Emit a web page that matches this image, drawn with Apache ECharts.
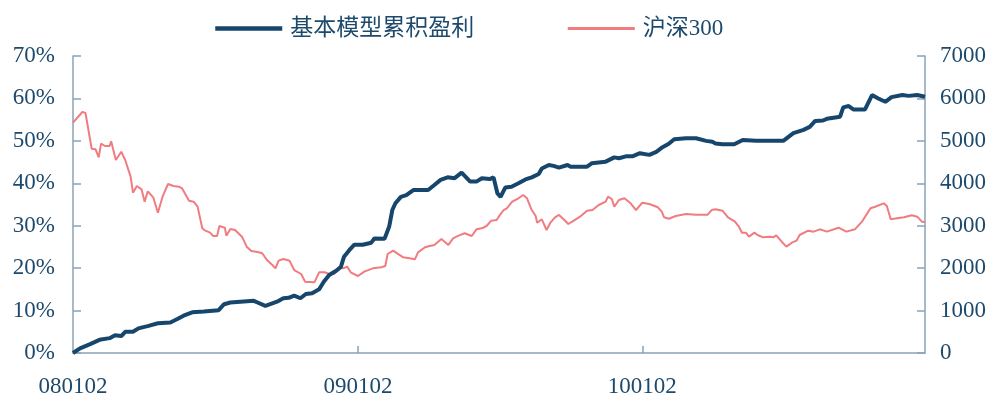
<!DOCTYPE html>
<html>
<head>
<meta charset="utf-8">
<script src="https://cdn.jsdelivr.net/npm/echarts@6/dist/echarts.min.js"></script>
<style>
html,body{margin:0;padding:0;background:#fff;}
#c{width:1002px;height:405px;}
</style>
</head>
<body>
<div id="c"></div>
<script>
// ---- data ----
const modelDates = ['2008-01-02','2008-01-11','2008-01-24','2008-02-05','2008-02-18','2008-02-25','2008-03-04','2008-03-09','2008-03-19','2008-03-26','2008-04-08','2008-04-20','2008-05-06','2008-05-15','2008-05-23','2008-06-03','2008-06-18','2008-07-07','2008-07-14','2008-07-22','2008-08-04','2008-08-21','2008-08-26','2008-09-05','2008-09-20','2008-09-28','2008-10-05','2008-10-12','2008-10-20','2008-10-27','2008-11-04','2008-11-13','2008-11-19','2008-11-26','2008-12-05','2008-12-11','2008-12-15','2008-12-22','2008-12-28','2009-01-08','2009-01-19','2009-01-23','2009-02-05','2009-02-11','2009-02-15','2009-02-19','2009-02-26','2009-03-05','2009-03-14','2009-04-02','2009-04-10','2009-04-18','2009-04-27','2009-05-06','2009-05-15','2009-05-26','2009-06-03','2009-06-10','2009-06-20','2009-06-25','2009-06-30','2009-07-04','2009-07-10','2009-07-18','2009-07-27','2009-08-05','2009-08-13','2009-08-22','2009-08-26','2009-09-04','2009-09-10','2009-09-17','2009-09-28','2009-10-02','2009-10-23','2009-10-29','2009-11-07','2009-11-16','2009-11-27','2009-12-03','2009-12-13','2009-12-21','2009-12-30','2010-01-11','2010-01-20','2010-01-28','2010-02-05','2010-02-12','2010-02-27','2010-03-12','2010-03-25','2010-04-02','2010-04-06','2010-04-15','2010-04-30','2010-05-11','2010-05-28','2010-07-02','2010-07-15','2010-07-28','2010-08-05','2010-08-12','2010-08-22','2010-08-27','2010-09-13','2010-09-17','2010-09-24','2010-09-30','2010-10-15','2010-10-24','2010-11-01','2010-11-10','2010-11-18','2010-12-02','2010-12-10','2010-12-21','2010-12-31'];
const modelProfit = [0,1.1,2.1,3.1,3.5,4.2,4.0,5.0,5.0,5.8,6.4,7.0,7.2,8.0,8.8,9.6,9.8,10.1,11.5,11.9,12.1,12.3,11.9,11.1,12.1,12.9,13.0,13.5,12.9,13.9,14.1,15.0,16.8,18.4,19.4,20.3,22.7,24.3,25.5,25.5,26.0,27.0,26.9,29.8,33.7,35.3,36.8,37.2,38.4,38.4,39.6,40.8,41.4,41.2,42.5,40.4,40.4,41.2,41.0,41.4,37.6,36.8,39.0,39.2,40.0,40.9,41.4,42.2,43.5,44.3,44.1,43.7,44.3,43.9,43.9,44.7,44.9,45.1,46.1,45.9,46.4,46.4,47.1,46.7,47.4,48.5,49.3,50.4,50.6,50.6,50.0,49.8,49.4,49.2,49.2,50.2,50.0,50.0,51.8,52.6,53.3,54.7,54.8,55.2,55.7,57.9,58.2,57.4,57.4,60.8,60.0,59.2,60.3,60.8,60.6,60.8,60.4];

const hs300Dates = ['2008-01-02','2008-01-14','2008-01-18','2008-01-26','2008-01-31','2008-02-04','2008-02-07','2008-02-12','2008-02-18','2008-02-20','2008-02-26','2008-03-04','2008-03-09','2008-03-16','2008-03-19','2008-03-24','2008-03-30','2008-04-03','2008-04-07','2008-04-14','2008-04-20','2008-04-26','2008-05-03','2008-05-10','2008-05-17','2008-05-21','2008-05-30','2008-06-05','2008-06-10','2008-06-16','2008-06-20','2008-06-26','2008-06-30','2008-07-05','2008-07-08','2008-07-15','2008-07-17','2008-07-22','2008-07-28','2008-08-06','2008-08-12','2008-08-18','2008-08-26','2008-09-01','2008-09-07','2008-09-14','2008-09-18','2008-09-22','2008-09-28','2008-10-03','2008-10-06','2008-10-12','2008-10-21','2008-10-26','2008-11-07','2008-11-13','2008-11-20','2008-11-26','2008-12-02','2008-12-09','2008-12-14','2008-12-19','2008-12-24','2009-01-02','2009-01-10','2009-01-21','2009-02-01','2009-02-06','2009-02-09','2009-02-16','2009-02-18','2009-03-01','2009-03-09','2009-03-16','2009-03-20','2009-03-29','2009-04-04','2009-04-10','2009-04-19','2009-04-28','2009-05-04','2009-05-11','2009-05-19','2009-05-28','2009-06-03','2009-06-10','2009-06-16','2009-06-22','2009-06-29','2009-07-03','2009-07-08','2009-07-12','2009-07-19','2009-07-27','2009-08-02','2009-08-07','2009-08-13','2009-08-18','2009-08-20','2009-08-26','2009-09-01','2009-09-06','2009-09-12','2009-09-17','2009-09-23','2009-09-29','2009-10-06','2009-10-14','2009-10-23','2009-10-30','2009-11-07','2009-11-16','2009-11-19','2009-11-24','2009-11-27','2009-12-03','2009-12-10','2009-12-18','2009-12-25','2010-01-02','2010-01-11','2010-01-22','2010-01-27','2010-01-30','2010-02-05','2010-02-14','2010-02-27','2010-03-12','2010-03-27','2010-04-01','2010-04-06','2010-04-15','2010-04-22','2010-05-01','2010-05-06','2010-05-10','2010-05-15','2010-05-19','2010-05-26','2010-05-30','2010-06-06','2010-06-15','2010-06-19','2010-06-23','2010-06-30','2010-07-06','2010-07-13','2010-07-19','2010-07-23','2010-08-03','2010-08-10','2010-08-18','2010-08-27','2010-09-11','2010-09-21','2010-10-02','2010-10-11','2010-10-22','2010-10-28','2010-11-08','2010-11-12','2010-11-17','2010-11-25','2010-12-04','2010-12-14','2010-12-21','2010-12-27','2010-12-31'];
const hs300Index = [5430,5680,5660,4815,4800,4612,4933,4879,4879,4990,4549,4745,4549,4156,3778,3936,3858,3566,3811,3669,3307,3684,3983,3936,3920,3881,3590,3566,3448,2939,2883,2836,2758,2758,2993,2953,2765,2922,2899,2742,2506,2404,2381,2350,2192,2074,1996,2176,2215,2192,2176,1956,1862,1680,1666,1902,1902,1862,1862,2020,1996,2035,1893,1815,1917,1996,2020,2051,2333,2412,2365,2255,2231,2208,2373,2491,2522,2546,2687,2546,2703,2765,2821,2758,2915,2939,2993,3118,3134,3250,3370,3410,3566,3646,3724,3646,3370,3236,3071,3151,2899,3071,3198,3253,3151,3040,3118,3213,3354,3370,3488,3566,3684,3623,3448,3606,3646,3528,3370,3543,3512,3434,3330,3198,3165,3229,3276,3260,3260,3370,3387,3354,3198,3095,2977,2836,2836,2742,2836,2781,2726,2742,2726,2773,2623,2506,2600,2647,2781,2883,2860,2915,2860,2953,2860,2915,3095,3410,3448,3528,3465,3151,3174,3198,3245,3213,3095,3090];

const seriesNames = ['基本模型累积盈利','沪深300'];
const xLabelDates = ['2008-01-02','2009-01-02','2010-01-02'];
const xTickDates = ['2009-01-02','2010-01-02'];
const xMin = '2008-01-02', xMax = '2010-12-31';

// ---- helpers ----
function ts(s){ const p = s.split('-').map(Number); return new Date(p[0], p[1]-1, p[2]).getTime(); }
function pad(n){ return (n<10?'0':'')+n; }
function fmt(v){ const d = new Date(v); return pad(d.getFullYear()%100)+pad(d.getMonth()+1)+pad(d.getDate()); }

const TXT = '#1d4a6c';
const AX = '#8aa3b8';
const BLUE = '#17466c';
const PINK = '#f07c80';
const FONT = '"Liberation Serif", "Noto Sans CJK SC", serif';

const chart = echarts.init(document.getElementById('c'));
chart.setOption({
  animation: false,
  backgroundColor: '#fff',
  textStyle: { fontFamily: FONT, color: TXT },
  legend: {
    left: 208, top: 12,
    itemWidth: 67, itemHeight: 14, itemGap: 92,
    itemStyle: { opacity: 0 },
    textStyle: { fontFamily: FONT, fontSize: 23, color: TXT, padding: [0,0,0,3] },
    data: [
      { name: seriesNames[0], lineStyle: { width: 4.5, color: BLUE } },
      { name: seriesNames[1], lineStyle: { width: 3, color: PINK } }
    ]
  },
  grid: { left: 73, right: 77, top: 56, bottom: 52, containLabel: false },
  xAxis: {
    type: 'value',
    min: ts(xMin), max: ts(xMax),
    axisLine: { lineStyle: { color: AX, width: 1.5 } },
    axisTick: { inside: true, length: 7, lineStyle: { color: AX, width: 1.5 }, customValues: xTickDates.map(ts) },
    axisLabel: { customValues: xLabelDates.map(ts), formatter: fmt, fontFamily: FONT, fontSize: 23, color: TXT, margin: 22, hideOverlap: false, showMinLabel: true },
    splitLine: { show: false }
  },
  yAxis: [
    {
      type: 'value', min: 0, max: 70, interval: 10, position: 'left',
      axisLine: { show: true, lineStyle: { color: AX, width: 1.5 } },
      axisTick: { show: true, inside: true, length: 8, lineStyle: { color: AX, width: 1.5 } },
      axisLabel: { formatter: v => v + '%', fontFamily: FONT, fontSize: 23, color: TXT, margin: 18 },
      splitLine: { show: false }
    },
    {
      type: 'value', min: 0, max: 7000, interval: 1000, position: 'right',
      axisLine: { show: true, lineStyle: { color: AX, width: 1.5 } },
      axisTick: { show: true, inside: true, length: 8, lineStyle: { color: AX, width: 1.5 } },
      axisLabel: { formatter: v => String(v), fontFamily: FONT, fontSize: 23, color: TXT, margin: 15 },
      splitLine: { show: false }
    }
  ],
  series: [
    {
      name: seriesNames[0], type: 'line', yAxisIndex: 0,
      data: modelDates.map((d,i)=>[ts(d), modelProfit[i]]),
      symbol: 'none', smooth: false,
      lineStyle: { color: BLUE, width: 4 }, itemStyle: { color: BLUE }, z: 3
    },
    {
      name: seriesNames[1], type: 'line', yAxisIndex: 1,
      data: hs300Dates.map((d,i)=>[ts(d), hs300Index[i]]),
      symbol: 'none', smooth: false,
      lineStyle: { color: PINK, width: 2 }, itemStyle: { color: PINK }, z: 2
    }
  ]
});
</script>
</body>
</html>
